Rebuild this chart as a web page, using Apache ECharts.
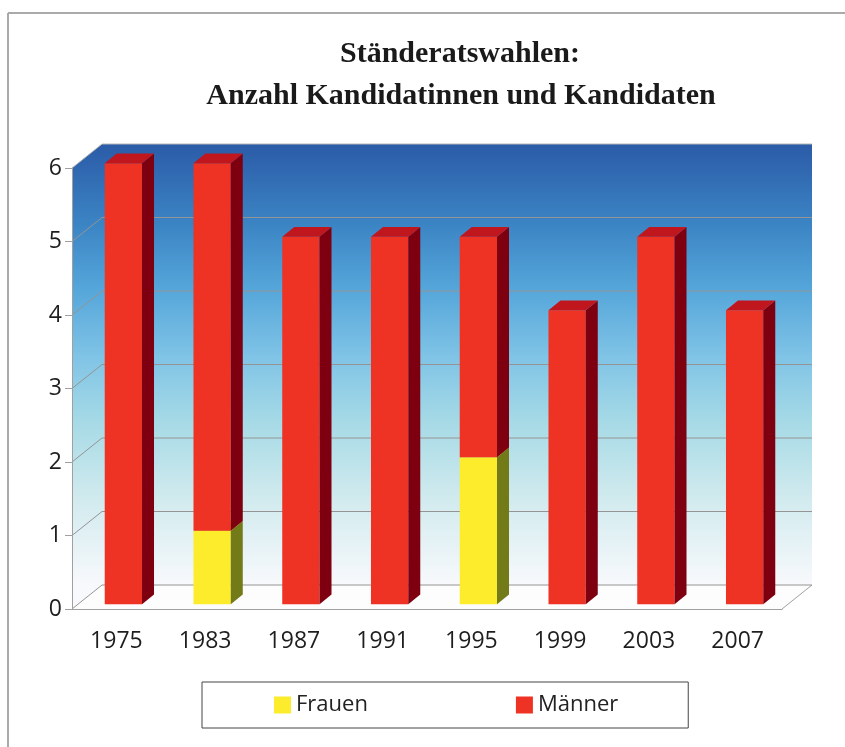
<!DOCTYPE html>
<html>
<head>
<meta charset="utf-8">
<script src="https://cdn.jsdelivr.net/npm/echarts@6/dist/echarts.min.js"></script>
<style>
  html, body { margin: 0; padding: 0; background: #fff; }
  #chart { width: 845px; height: 747px; }
</style>
</head>
<body>
<div id="chart"></div>
<script>
const years = ['1975', '1983', '1987', '1991', '1995', '1999', '2003', '2007'];
const frauen = [0, 1, 0, 0, 2, 0, 0, 0];
const maenner = [6, 5, 5, 5, 3, 4, 5, 4];
const yTicks = [0, 1, 2, 3, 4, 5, 6];

// depth of the fake 3d box (pixels)
const DX = 30, DY = 24;
const axisGray = '#a0a0a0';

const wallGradient = (y0, y1) => new echarts.graphic.LinearGradient(0, y0, 0, y1, [
  { offset: 0, color: '#2b5ba7' },
  { offset: 0.18, color: '#3b84c4' },
  { offset: 0.33, color: '#55a6da' },
  { offset: 0.48, color: '#7fc3e6' },
  { offset: 0.63, color: '#a6dae6' },
  { offset: 0.8, color: '#d0eaee' },
  { offset: 1, color: '#f8f9fc' }
], true);

function renderFrame(params, api) {
  const v = api.value(1);
  const cs = params.coordSys;
  const x0 = cs.x, x1 = cs.x + cs.width, yt = cs.y, yb = cs.y + cs.height;
  const y = api.coord([0, v])[1];
  const children = [];
  if (v === yTicks[0]) {
    const grad = wallGradient(yt - DY, yb - DY);
    children.push({
      type: 'rect',
      shape: { x: x0 + DX, y: yt - DY, width: cs.width, height: cs.height },
      style: { fill: grad }
    });
    children.push({
      type: 'polygon',
      shape: { points: [[x0, yt], [x0 + DX, yt - DY], [x0 + DX, yb - DY], [x0, yb]] },
      style: { fill: grad }
    });
    children.push({
      type: 'polygon',
      shape: { points: [[x0, yb], [x0 + DX, yb - DY], [x1 + DX, yb - DY], [x1, yb]] },
      style: { fill: '#fdfdfe' }
    });
    children.push({
      type: 'line',
      shape: { x1: x1, y1: yb, x2: x1 + DX, y2: yb - DY },
      style: { stroke: axisGray, lineWidth: 1 }
    });
  }
  children.push({
    type: 'polyline',
    shape: { points: [[x0, y], [x0 + DX, y - DY], [x1 + DX, y - DY]] },
    style: { stroke: v === yTicks[yTicks.length - 1] ? '#b8b8b8' : '#949494', lineWidth: 1, fill: null }
  });
  return { type: 'group', children: children };
}

function makeBarRenderer(front, side, top) {
  return function (params, api) {
    const i = api.value(0), lo = api.value(1), hi = api.value(2);
    if (hi <= lo) return null;
    const b = api.coord([i, lo]);
    const t = api.coord([i, hi]);
    const w = api.size([1, 0])[0] * 0.42;
    const ox = DX * 0.2, oy = DY * 0.2;
    const dx = DX * 0.4, dy = DY * 0.4;
    const fx = b[0] - w / 2 + ox + 1;
    const fb = b[1] - oy, ft = t[1] - oy;
    return {
      type: 'group',
      children: [
        { type: 'rect', shape: { x: fx, y: ft, width: w, height: fb - ft }, style: { fill: front } },
        { type: 'polygon', shape: { points: [[fx + w, ft], [fx + w + dx, ft - dy], [fx + w + dx, fb - dy], [fx + w, fb]] }, style: { fill: side } },
        { type: 'polygon', shape: { points: [[fx, ft], [fx + w, ft], [fx + w + dx, ft - dy], [fx + dx, ft - dy]] }, style: { fill: top } }
      ]
    };
  };
}

const chart = echarts.init(document.getElementById('chart'), null, { renderer: 'canvas' });

const titleFont = 'bold 30px "Liberation Serif", "Times New Roman", serif';
const labelFont = '"Open Sans", sans-serif';

chart.setOption({
  animation: false,
  graphic: [
    { type: 'line', shape: { x1: 8, y1: 13, x2: 845, y2: 13 }, style: { stroke: '#aaa', lineWidth: 2 } },
    { type: 'line', shape: { x1: 8, y1: 13, x2: 8, y2: 747 }, style: { stroke: '#aaa', lineWidth: 2 } },
    { type: 'text', style: { text: 'Ständeratswahlen:', x: 460, y: 54, textAlign: 'center', textVerticalAlign: 'middle', font: titleFont, fill: '#1a1a1a' } },
    { type: 'text', style: { text: 'Anzahl Kandidatinnen und Kandidaten', x: 461, y: 96, textAlign: 'center', textVerticalAlign: 'middle', font: titleFont, fill: '#1a1a1a' } }
  ],
  legend: {
    left: 202,
    top: 682,
    padding: [12, 70, 12, 72],
    itemGap: 148,
    itemWidth: 17,
    itemHeight: 17,
    borderColor: '#444',
    borderWidth: 1,
    textStyle: { fontFamily: labelFont, fontSize: 22, color: '#222' },
    data: [
      { name: 'Frauen', icon: 'rect', itemStyle: { color: '#fdec2c' } },
      { name: 'Männer', icon: 'rect', itemStyle: { color: '#ee3224' } }
    ]
  },
  grid: { left: 72, right: 63, top: 168, bottom: 138 },
  xAxis: {
    type: 'category',
    data: years,
    z: 5,
    axisLine: { lineStyle: { color: axisGray, width: 1 } },
    axisTick: { length: 6, lineStyle: { color: axisGray } },
    axisLabel: { margin: 21, fontFamily: labelFont, fontSize: 23, color: '#1e1e1e' }
  },
  yAxis: {
    type: 'value',
    min: 0,
    max: 6,
    interval: 1,
    z: 5,
    axisLine: { show: true, lineStyle: { color: axisGray, width: 1 } },
    axisTick: { show: true, length: 7, lineStyle: { color: axisGray } },
    splitLine: { show: false },
    axisLabel: { margin: 10, fontFamily: labelFont, fontSize: 23, color: '#1e1e1e' }
  },
  series: [
    {
      type: 'custom',
      z: 1,
      silent: true,
      renderItem: renderFrame,
      encode: { x: 0, y: 1 },
      data: yTicks.map(v => [0, v])
    },
    {
      name: 'Frauen',
      type: 'custom',
      z: 2,
      itemStyle: { color: '#fdec2c' },
      renderItem: makeBarRenderer('#fdec2c', '#737a18', '#c9c020'),
      encode: { x: 0, y: [1, 2] },
      data: years.map((y, i) => [i, 0, frauen[i]])
    },
    {
      name: 'Männer',
      type: 'custom',
      z: 3,
      itemStyle: { color: '#ee3224' },
      renderItem: makeBarRenderer('#ee3224', '#7e0010', '#c0161e'),
      encode: { x: 0, y: [1, 2] },
      data: years.map((y, i) => [i, frauen[i], frauen[i] + maenner[i]])
    }
  ]
});
</script>
</body>
</html>
